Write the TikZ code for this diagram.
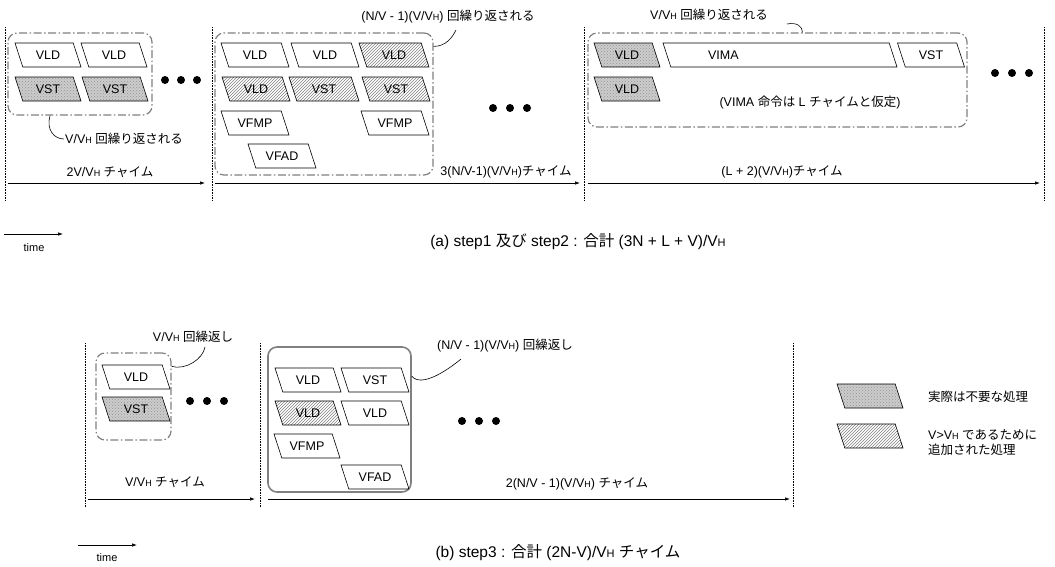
\documentclass[tikz,border=0pt]{standalone}
\usepackage{fontspec}
\setmainfont{Liberation Sans}
\newfontfamily\jp{Noto Sans CJK JP}
\usetikzlibrary{arrows.meta,shapes.geometric,patterns}
\newcommand\VH[1][9]{V{\fontsize{#1}{#1}\selectfont H}}

\begin{document}
\begin{tikzpicture}[x=1pt,y=-1pt,
  txt/.style={font=\fontsize{12.5}{15}\selectfont, inner sep=1pt},
  op/.style={txt, trapezium, trapezium left angle=108, trapezium right angle=72,
    trapezium stretches body=true, draw, line width=0.6pt,
    text height=10pt, text depth=2pt, inner xsep=0pt, inner ysep=6pt,
    minimum width=66pt, outer sep=0pt},
  opgray/.style={op, preaction={fill=gray!40}, pattern=crosshatch dots, pattern color=gray!85},
  ophatch/.style={op, pattern=north east lines, pattern color=gray},
  grpbox/.style={draw=gray, line width=1.2pt, dash pattern=on 8pt off 2.5pt on 1.5pt off 2.5pt,
    rounded corners=9pt, inner sep=0pt},
  grpsolid/.style={draw=gray, line width=1.6pt, rounded corners=9pt, inner sep=0pt},
  vline/.style={densely dotted, line width=0.6pt},
  tline/.style={-{Latex[length=5pt,width=3.5pt]}, line width=0.7pt},
  callout/.style={line width=0.6pt},
  captxt/.style={font=\fontsize{15.5}{18}\selectfont, inner sep=1pt},
  timetxt/.style={font=\fontsize{11}{13}\selectfont, inner sep=1pt}]
  \useasboundingbox (0,0) rectangle (1055,566);

  % ---- (a) step1 and step2
  \foreach \x in {5,212,584,1044}{\draw[vline] (\x,27) -- (\x,200);}
  \node[grpbox, minimum width=144pt, minimum height=82pt] (ga1) at (80,74) {};
  \node[grpbox, minimum width=218pt, minimum height=142pt] (ga2) at (324,104) {};
  \node[grpbox, minimum width=379pt, minimum height=94pt] (ga3) at (777.5,80) {};

  \node[op] (a11) at (48,55) {VLD};
  \node[op] (a12) at (114,55) {VLD};
  \node[opgray] (a13) at (48,89) {VST};
  \node[opgray] (a14) at (115,89) {VST};

  \node[op, minimum width=68pt] (a21) at (255,55) {VLD};
  \node[op, minimum width=68pt] (a22) at (325,55) {VLD};
  \node[ophatch, minimum width=70pt] (a23) at (394,55) {VLD};
  \node[ophatch, minimum width=68pt] (a24) at (256,89) {VLD};
  \node[ophatch, minimum width=70pt] (a25) at (324,89) {VST};
  \node[ophatch, minimum width=68pt] (a26) at (396,89) {VST};
  \node[op, minimum width=68pt] (a27) at (255,123) {VFMP};
  \node[op, minimum width=68pt] (a28) at (395,123) {VFMP};
  \node[op, minimum width=68pt] (a29) at (282,156) {VFAD};

  \node[opgray] (a31) at (627,55) {VLD};
  \node[op, minimum width=234pt] (a32) at (780,55) {\phantom{VIMA}};
  \node[txt, anchor=west] (tvima) at ([xshift=40pt]a32.west) {VIMA};
  \node[op, minimum width=67pt] (a33) at (931,55) {VST};
  \node[opgray] (a34) at (627,89) {VLD};
  \node[txt] (nvima) at (810,103) {(VIMA {\jp 命令は} L {\jp チャイムと仮定})};

  \foreach \x in {165,181,197}{\fill (\x,80) circle (4pt);}
  \foreach \x in {493,510,527}{\fill (\x,108) circle (4pt);}
  \foreach \x in {995,1012,1029}{\fill (\x,73) circle (4pt);}

  \node[txt, anchor=west] (la1) at (64,139) {V/\VH\ {\jp 回繰り返される}};
  \node[txt] (la2) at (448,17) {(N/V - 1)(V/\VH) {\jp 回繰り返される}};
  \node[txt] (la3) at (709,15) {V/\VH\ {\jp 回繰り返される}};
  \coordinate (ca2) at (456,30);
  \coordinate (ca3) at (787,24);
  \draw[callout] ([xshift=-30pt]ga1.south) .. controls +(-4,14) and +(-10,0) .. (la1.west);
  \draw[callout] ([yshift=-14pt]ga2.north east) .. controls +(12,0) and +(-4,8) .. (ca2);
  \draw[callout] (ca3) .. controls +(10,-2) and +(0,-6) .. ([xshift=25pt]ga3.north);

  \foreach \n/\xa/\xb in {1/8/205,2/215/580,3/588/1040}{
    \coordinate (ta\n s) at (\xa,183);
    \coordinate (ta\n e) at (\xb,183);
    \draw[tline] (ta\n s) -- (ta\n e);
  }
  \node[txt] (da1) at (110,172) {2V/\VH\ {\jp チャイム}};
  \node[txt] (da2) at (506,172) {3(N/V-1)(V/\VH){\jp チャイム}};
  \node[txt] (da3) at (782,172) {(L + 2)(V/\VH){\jp チャイム}};

  \coordinate (tma s) at (4,234);
  \coordinate (tma e) at (63,234);
  \draw[tline] (tma s) -- (tma e);
  \node[timetxt] (tmal) at (34,248) {time};
  \node[captxt] (capa) at (578,242) {(a) step1 {\jp 及び} step2 : {\jp 合計} (3N + L + V)/\VH[11]};

  % ---- (b) step3
  \foreach \x in {85,260,793}{\draw[vline] (\x,343) -- (\x,507);}
  \node[grpbox, minimum width=75pt, minimum height=87pt] (gb1) at (133.5,396.5) {};
  \node[grpsolid, minimum width=143pt, minimum height=145pt] (gb2) at (339.5,419.5) {};

  \node[op, minimum width=68pt] (b11) at (136,377) {VLD};
  \node[opgray, minimum width=68pt] (b12) at (136,409) {VST};

  \node[op] (b21) at (308,380) {VLD};
  \node[op, minimum width=68pt] (b22) at (375,380) {VST};
  \node[ophatch] (b23) at (308,413) {VLD};
  \node[op, minimum width=68pt] (b24) at (375,413) {VLD};
  \node[op] (b25) at (307,446) {VFMP};
  \node[op, minimum width=68pt] (b26) at (375,477) {VFAD};

  \foreach \x in {190,207,224}{\fill (\x,401) circle (4pt);}
  \foreach \x in {462,479,496}{\fill (\x,421) circle (4pt);}

  \node[txt] (lb1) at (193,337) {V/\VH\ {\jp 回繰返し}};
  \node[txt] (lb2) at (505,346) {(N/V - 1)(V/\VH) {\jp 回繰返し}};
  \coordinate (cb1) at (205,347);
  \coordinate (cb2) at (461,359);
  \draw[callout] ([yshift=-14pt]gb1.north east) .. controls +(14,4) and +(-2,12) .. (cb1);
  \draw[callout] ([yshift=-30pt]gb2.north east) .. controls +(10,12) and +(-12,10) .. (cb2);

  \foreach \n/\xa/\xb in {1/88/255,2/268/790}{
    \coordinate (tb\n s) at (\xa,499);
    \coordinate (tb\n e) at (\xb,499);
    \draw[tline] (tb\n s) -- (tb\n e);
  }
  \node[txt] (db1) at (165,482) {V/\VH\ {\jp チャイム}};
  \node[txt] (db2) at (577,484) {2(N/V - 1)(V/\VH) {\jp チャイム}};

  \coordinate (tmb s) at (78,545);
  \coordinate (tmb e) at (137,545);
  \draw[tline] (tmb s) -- (tmb e);
  \node[timetxt] (tmbl) at (107,558) {time};
  \node[captxt] (capb) at (558,553) {(b) step3 : {\jp 合計} (2N-V)/\VH[11]\ {\jp チャイム}};

  % ---- legend
  \node[opgray] (kg) at (870,396) {\phantom{VLD}};
  \node[ophatch] (kh) at (870,436) {\phantom{VLD}};
  \node[txt, anchor=west] (kgl) at (927,397) {\jp 実際は不要な処理};
  \node[txt, anchor=west, align=left] (khl) at (927,443) {V>\VH\ {\jp であるために}\\{\jp 追加された処理}};
\end{tikzpicture}
\end{document}
